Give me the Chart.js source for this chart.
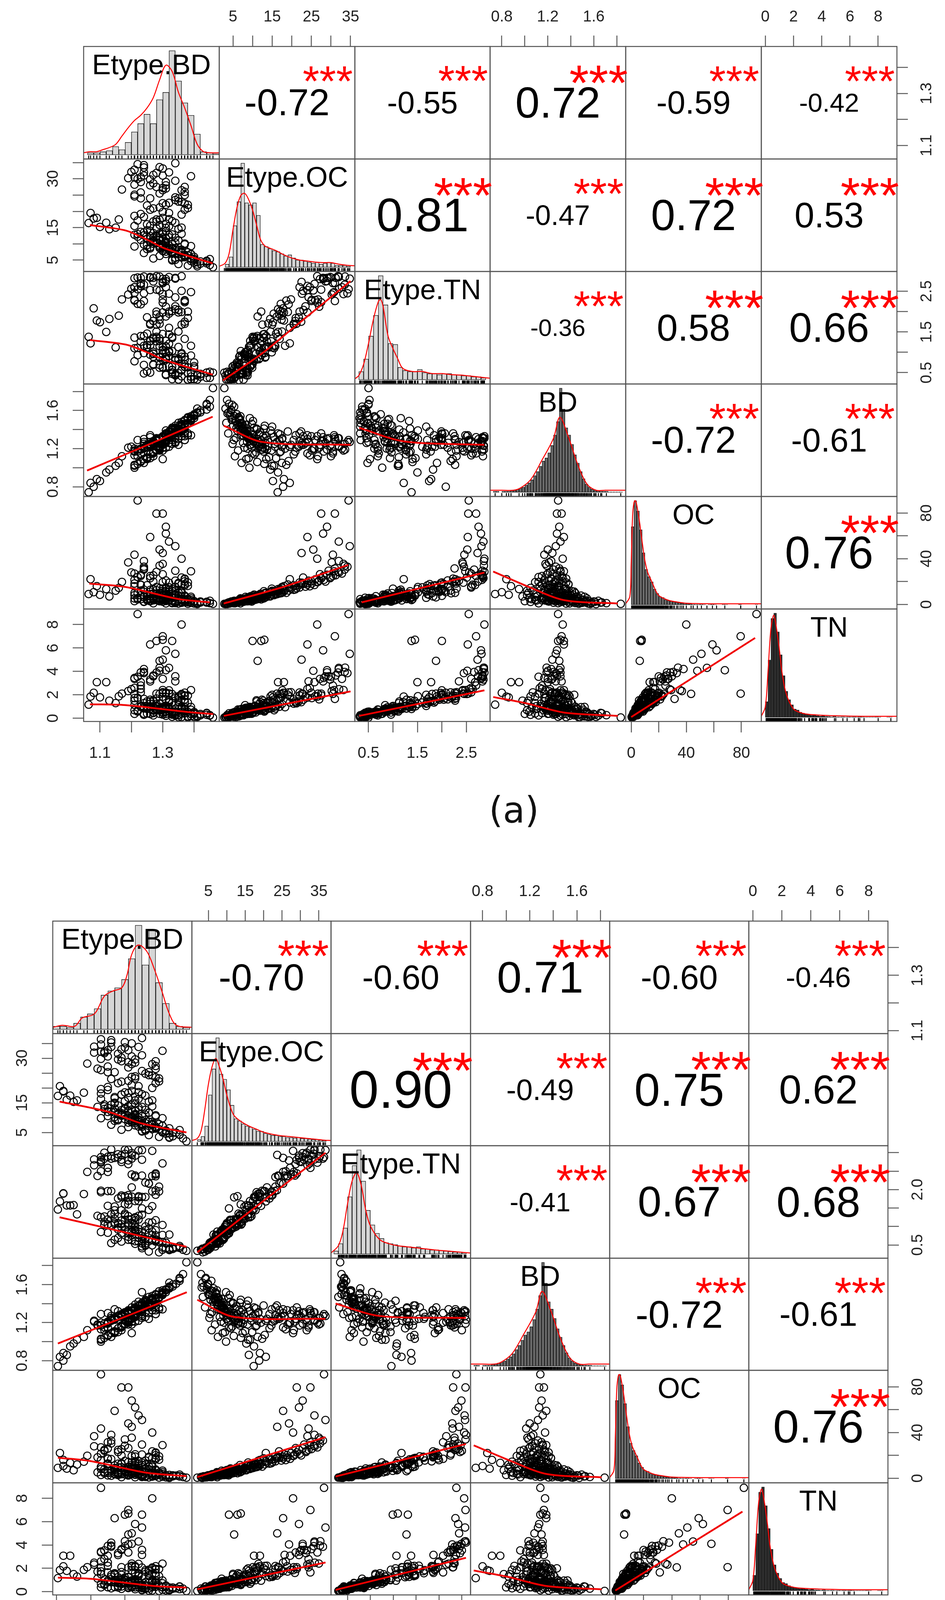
<!DOCTYPE html>
<html>
<head>
<meta charset="utf-8">
<script src="https://cdn.jsdelivr.net/npm/chart.js@4.4.1/dist/chart.umd.min.js"></script>
<style>
  body { margin: 0; background: #fff; width: 2418px; height: 4335px; position: relative; overflow: hidden; }
  canvas { position: absolute; }
  .txt { position: absolute; transform: translate(-50%, -50%); line-height: 1; white-space: nowrap;
         font-family: "Liberation Sans", Arial, sans-serif; }
</style>
</head>
<body>
<script>
// ---- data (one value per soil sample) ----
const varLabels = ["Etype.BD", "Etype.OC", "Etype.TN", "BD", "OC", "TN"];

const oc = [0.3,0.8,1.1,1.4,1.6,1.9,0.5,1.2,1.7,0.9, 2.1,2.3,2.4,2.6,2.7,2.8,2.9,3.0,3.1,3.2,
  3.3,3.4,3.5,3.6,3.6,3.7,3.8,3.9,3.9,2.5, 4.1,4.2,4.3,4.4,4.5,4.6,4.7,4.8,4.9,5.0,
  5.2,5.3,5.4,5.5,5.7,5.8,5.9,6.1,6.2,6.4, 6.6,6.8,7.0,7.2,7.4,7.6,7.7,7.9,7.5,8.2,
  8.4,8.6,8.9,9.1,9.3,9.6,9.8,10.3,10.7,11.1, 11.6,12.0,12.4,12.9,13.4,13.8,14.5,15.2,16.0,16.8,
  17.5,18.3,19.0,19.7,20.8,22.1,23.5,24.9,26.4,28.0, 29.5,31.5,34.0,36.8,40.0,43.5,51.0,59.0,68.0,91.0,
  79.5,79.5,
  1.0,2.2,3.4,4.0,1.5,2.9,5.1,0.7,3.8,2.0, 4.6,1.3,3.1,5.6,2.7,4.3,1.8,3.6,5.3,0.6,
  2.4,4.9,3.3,1.1,5.8,2.6,4.4,3.0,1.9,5.5, 3.9,2.8,4.7,1.4,3.5,5.0,2.2,4.1,0.4,3.7,
  6.3,7.1,8.0,9.4,10.1,6.9,11.4,12.8,7.8,8.7, 13.6,9.9,6.5,14.2,10.9,7.3,12.2,8.3,11.8,9.0,
  6.7,13.1,10.5,7.6,14.8,8.8,12.6,9.7,11.2,6.0, 13.9,7.4,10.0,8.1,12.0,
  15.5,17.0,18.8,21.5,16.2,23.0,19.5,25.5,17.8,27.0, 20.2,15.9,22.6,30.5,18.0,24.0,16.6,28.5,21.0,33.0,
  19.2,26.0,15.0,38.0,22.0,17.3,29.0,20.0,35.5,24.8,
  45.0,55.0,6.5,62.0,48.0];
const tn = [0.11,0.11,0.26,0.10,0.45,0.16,0.06,0.32,0.25,0.21, 0.42,0.29,0.31,0.38,0.56,0.36,0.36,0.41,0.84,0.22,
  0.70,0.28,0.79,0.38,0.53,0.38,0.79,0.40,0.88,0.38, 0.74,0.49,0.58,0.66,0.92,0.25,0.83,0.81,0.80,0.51,
  1.13,0.36,0.92,0.50,1.53,0.46,0.97,0.71,4.9,0.83, 0.89,0.65,1.50,0.59,1.58,6.7,0.95,1.04,6.6,0.74,
  1.78,0.57,1.44,1.16,1.38,0.73,1.74,0.97,2.17,0.98, 1.30,1.29,1.68,0.94,3.08,1.05,1.87,1.22,3.08,1.44,
  2.00,1.72,2.11,2.10,3.15,1.85,2.07,2.79,3.36,2.48, 3.58,1.65,4.32,2.32,8.0,2.08,5.5,6.3,4.1,8.9,
  7.0,2.1,0.24,0.29,0.75,0.40,0.30,0.37,1.02,0.09, 0.74,0.23,0.96,0.19,0.71,0.56,0.43,0.59,0.42,0.44,
  1.23,0.07,0.53,0.55,0.80,0.12,1.05,0.36,0.90,0.37, 0.43,0.57,0.72,0.37,1.11,0.17,0.59,0.70,0.53,0.47,
  0.12,0.40,1.08,0.82,1.43,0.83,1.50,0.79,2.10,1.24, 1.49,0.83,2.06,0.98,1.28,1.27,1.58,0.87,2.21,0.81,
  2.16,0.81,0.96,1.44,1.88,0.65,2.20,1.02,2.38,0.98, 2.00,0.54,2.22,0.75,2.07,0.68,1.71,1.85,3.08,1.76,
  3.44,1.33,3.30,1.84,3.65,1.37,3.36,2.18,2.59,1.95, 3.95,1.58,3.54,1.60,3.90,1.61,3.85,1.94,3.92,1.34,
  4.2,1.89,2.50,2.40,3.57,2.41,3.14,5.0,4.3,6.6, 5.8,4.05];
const bd = [1.62,1.55,1.71,1.48,1.66,1.52,1.835,1.44,1.58,1.39, 1.45,1.61,1.33,1.49,1.38,1.27,1.56,1.42,1.35,1.64,
  1.30,1.47,1.24,1.40,1.53,1.36,1.28,1.44,1.32,1.21, 1.37,1.26,1.50,1.19,1.34,1.43,1.31,1.22,1.46,1.29,
  1.17,1.54,1.33,1.39,1.25,1.41,1.28,1.32,1.30,1.21, 1.45,1.27,0.98,1.38,1.24,1.31,1.49,1.19,1.29,1.35,
  0.86,1.42,1.23,0.742,1.37,1.26,1.17,1.33,0.80,1.25, 1.41,1.02,1.29,1.20,0.95,1.36,1.05,1.30,0.88,1.22,
  1.38,1.18,1.26,1.12,1.27,0.84,1.33,1.15,1.24,1.22, 1.31,1.30,1.19,1.21,1.33,1.17,1.27,1.34,1.30,1.29,
  1.32,1.28,
  1.12,1.05,1.18,1.09,1.25,1.00,1.14,1.36,1.21,1.31, 1.06,1.58,1.44,1.35,1.52,1.28,1.67,1.15,1.23,1.47,
  1.39,1.46,1.10,1.29,1.19,1.60,1.33,1.26,1.42,1.04, 1.51,1.20,1.38,1.50,1.34,1.16,1.54,1.24,1.57,1.41,
  1.30,1.11,1.40,1.22,1.03,1.46,1.27,1.14,1.33,1.18, 1.35,1.44,1.09,1.21,1.32,1.25,1.07,1.37,1.24,1.29,
  1.52,1.17,1.39,1.20,1.28,1.10,1.31,1.16,1.43,1.27, 1.24,1.41,1.22,1.02,1.36,
  1.26,1.20,1.30,1.17,1.34,1.23,1.09,1.28,1.38,1.20, 1.33,1.13,1.36,1.25,1.24,1.12,1.29,1.31,1.21,1.27,
  1.36,1.19,1.22,1.23,1.29,1.15,1.34,1.26,1.18,1.32,
  1.24,1.31,1.34,1.28,1.20];

const etypeBdA = [1.41,1.40,1.45,1.36,1.44,1.38,1.46,1.34,1.42,1.31, 1.37,1.44,1.30,1.39,1.34,1.26,1.40,1.33,1.32,1.45,
  1.29,1.35,1.25,1.33,1.38,1.31,1.28,1.36,1.30,1.24, 1.32,1.27,1.37,1.22,1.31,1.35,1.29,1.25,1.36,1.30,
  1.21,1.39,1.31,1.33,1.27,1.34,1.28,1.30,1.29,1.24, 1.36,1.27,1.13,1.32,1.26,1.30,1.37,1.23,1.28,1.31,
  1.10,1.34,1.26,1.064,1.32,1.27,1.22,1.30,1.08,1.26, 1.33,1.15,1.28,1.24,1.12,1.31,1.16,1.28,1.09,1.25,
  1.36,1.21,1.32,1.17,1.34,1.07,1.36,1.23,1.30,1.20, 1.34,1.24,1.29,1.19,1.36,1.21,1.34,1.26,1.31,1.22,
  1.30,1.28,
  1.27,1.24,1.29,1.25,1.33,1.21,1.26,1.35,1.30,1.34, 1.23,1.41,1.37,1.33,1.40,1.31,1.44,1.27,1.29,1.38,
  1.36,1.38,1.26,1.33,1.28,1.42,1.32,1.31,1.37,1.22, 1.39,1.29,1.35,1.39,1.33,1.27,1.40,1.30,1.41,1.36,
  1.31,1.25,1.35,1.29,1.21,1.37,1.31,1.26,1.32,1.28, 1.33,1.36,1.24,1.29,1.32,1.30,1.23,1.34,1.30,1.31,
  1.39,1.27,1.35,1.29,1.31,1.25,1.32,1.27,1.36,1.31, 1.30,1.35,1.29,1.21,1.34,
  1.34,1.23,1.35,1.21,1.38,1.26,1.30,1.27,1.37,1.21, 1.37,1.21,1.37,1.24,1.35,1.22,1.37,1.28,1.31,1.24,
  1.38,1.23,1.32,1.24,1.37,1.23,1.39,1.27,1.30,1.26,
  1.30,1.32,1.33,1.31,1.29];
const etypeOcA = [3.1,4.2,3.5,5.8,4.8,6.5,2.8,5.1,3.9,6.9, 6.2,4.5,7.8,5.6,7.1,8.6,6.0,7.4,8.1,5.3,
  9.0,6.8,9.6,7.6,6.4,8.3,10.4,7.3,8.9,9.8, 8.0,10.8,6.6,12.2,8.8,7.7,9.4,11.5,7.2,9.9,
  12.8,6.9,9.1,8.4,11.0,8.7,10.2,9.7,11.3,12.6, 8.2,11.8,14.5,9.5,12.4,13.0,10.1,13.7,12.2,11.6,
  15.2,10.4,14.0,16.4,12.0,13.3,17.2,13.5,17.8,15.6, 12.9,15.0,16.8,18.3,16.5,14.9,17.5,17.5,18.0,21.8,
  19.0,25.1,22.6,26.7,24.3,19.5,22.9,30.5,27.2,32.1, 29.4,31.0,33.6,30.2,26.5,30.5,34.8,24.0,29.0,34.5,
  31.0,27.5,
  5.5,7.2,6.3,8.4,4.9,9.2,10.5,3.8,7.9,5.7, 11.2,4.4,6.6,8.8,5.0,9.5,4.0,10.0,11.8,3.3,
  6.1,7.4,9.0,5.2,12.5,4.6,8.6,7.6,5.9,13.0, 6.8,8.7,8.1,4.7,7.0,10.9,5.4,9.3,3.6,7.5,
  10.6,14.2,11.1,15.8,18.6,9.8,16.2,20.5,12.7,14.8, 17.0,13.1,13.5,21.2,15.4,12.0,19.2,11.9,18.0,13.9,
  9.3,20.9,14.6,13.2,22.0,16.0,17.6,16.9,15.0,10.3, 19.8,11.0,17.4,15.5,16.5,
  23.5,25.8,24.0,28.2,21.0,29.8,26.5,31.2,22.4,32.8, 25.0,24.6,27.5,33.5,23.0,30.0,20.5,31.8,27.0,34.2,
  22.0,29.0,19.5,32.0,26.0,24.0,30.8,28.6,33.2,28.0,
  22.5,32.0,10.0,28.0,25.5];
const etypeTnA = [0.43,0.34,0.52,0.41,0.50,0.32,0.50,0.44,0.47,0.45, 0.64,0.37,0.96,0.40,0.82,0.50,0.75,0.56,1.00,0.37,
  0.89,0.49,1.18,0.47,0.63,0.44,1.38,0.55,1.06,0.69, 0.91,0.96,0.89,0.93,0.88,0.33,1.28,1.12,0.89,0.62,
  1.36,0.50,1.14,0.57,1.36,0.43,1.35,0.81,1.88,0.98, 0.95,1.01,1.82,0.65,1.28,1.45,1.33,1.26,2.00,0.83,
  1.74,0.80,1.71,1.38,1.21,0.89,2.19,1.13,2.08,1.17, 1.35,1.12,1.93,1.16,1.50,1.00,1.90,1.51,1.78,1.86,
  1.99,2.29,2.44,2.30,2.35,1.22,2.51,2.70,2.80,2.56, 2.83,2.26,2.86,2.42,2.87,2.46,2.81,2.53,2.75,2.55,
  2.70,2.54,0.69,0.48,0.69,0.53,0.65,0.78,1.27,0.33, 0.95,0.46,1.40,0.33,0.70,0.51,0.66,0.83,0.50,0.71,
  1.34,0.33,0.72,0.48,0.94,0.34,1.68,0.40,1.03,0.46, 0.65,1.11,0.92,0.62,0.84,0.34,1.03,0.97,0.62,0.64,
  0.46,0.57,1.28,1.12,1.13,1.15,2.27,0.82,1.88,1.68, 1.44,1.27,2.01,0.98,1.40,1.70,1.95,1.04,2.18,0.86,
  1.98,1.15,1.16,1.77,1.51,0.87,2.60,1.46,2.00,1.33, 1.68,0.84,2.30,0.82,1.80,1.10,2.06,2.13,2.68,1.98,
  2.82,1.84,2.85,2.22,2.83,1.75,2.60,2.26,2.60,2.23, 2.66,2.04,2.84,1.70,2.87,2.12,2.45,2.00,2.83,1.60,
  2.86,2.28,2.63,2.48,2.74,2.43,2.83,2.73,2.85,1.38, 2.80,2.52];

const etypeBdB = [1.43,1.42,1.47,1.38,1.46,1.35,1.48,1.36,1.44,1.33, 1.39,1.45,1.31,1.41,1.35,1.28,1.43,1.34,1.33,1.46,
  1.30,1.37,1.27,1.35,1.40,1.32,1.29,1.38,1.32,1.25, 1.34,1.28,1.39,1.24,1.33,1.36,1.31,1.26,1.38,1.31,
  1.22,1.41,1.33,1.35,1.27,1.36,1.30,1.32,1.31,1.25, 1.38,1.29,1.15,1.34,1.27,1.31,1.39,1.24,1.30,1.33,
  1.13,1.36,1.27,1.104,1.34,1.28,1.23,1.32,1.12,1.27, 1.35,1.16,1.29,1.25,1.14,1.33,1.18,1.30,1.12,1.26,
  1.38,1.22,1.33,1.19,1.35,1.11,1.38,1.24,1.31,1.21, 1.35,1.25,1.30,1.21,1.38,1.23,1.35,1.27,1.32,1.23,
  1.31,1.29,
  1.29,1.26,1.31,1.27,1.35,1.23,1.28,1.37,1.32,1.36, 1.25,1.43,1.39,1.34,1.42,1.33,1.46,1.29,1.31,1.40,
  1.38,1.40,1.28,1.35,1.30,1.44,1.34,1.33,1.39,1.24, 1.41,1.31,1.37,1.41,1.35,1.29,1.42,1.32,1.43,1.38,
  1.33,1.27,1.37,1.31,1.23,1.39,1.33,1.28,1.34,1.30, 1.35,1.38,1.26,1.31,1.34,1.32,1.25,1.36,1.32,1.33,
  1.41,1.29,1.37,1.31,1.33,1.27,1.34,1.29,1.38,1.33, 1.32,1.37,1.31,1.23,1.36,
  1.36,1.25,1.37,1.23,1.40,1.28,1.32,1.29,1.39,1.23, 1.39,1.23,1.39,1.26,1.37,1.24,1.39,1.30,1.33,1.26,
  1.40,1.25,1.34,1.26,1.39,1.25,1.41,1.29,1.32,1.28,
  1.32,1.34,1.35,1.33,1.31];
const etypeOcB = [3.4,4.6,3.0,6.1,4.2,6.9,2.0,5.6,3.7,7.4, 6.6,4.9,8.3,5.2,7.6,9.1,6.4,7.0,8.7,5.8,
  9.5,7.2,10.2,8.0,6.1,8.9,11.0,7.7,9.4,10.5, 8.5,11.4,7.0,12.9,9.3,8.1,10.0,12.1,7.5,10.6,
  13.6,7.3,9.6,8.8,11.7,9.2,10.9,10.3,12.0,13.3, 8.6,12.5,15.3,10.0,13.1,13.8,10.8,14.4,12.9,12.2,
  16.0,11.0,14.8,17.3,12.7,14.1,18.1,14.3,18.8,16.5, 13.6,15.8,17.7,19.3,17.4,15.8,18.4,18.5,19.0,23.0,
  20.0,26.5,23.9,28.2,25.7,20.6,24.2,32.2,28.7,33.9, 31.0,32.7,35.4,31.9,28.0,32.2,36.8,25.3,30.6,36.4,
  32.7,29.0,
  5.9,7.6,6.8,8.9,5.3,9.8,11.1,4.1,8.4,6.0, 11.9,4.7,7.0,9.3,5.4,10.1,4.3,10.6,12.4,3.5,
  6.5,7.8,9.5,5.5,13.2,4.9,9.1,8.1,6.3,13.8, 7.2,9.2,8.6,5.0,7.4,11.5,5.7,9.9,3.2,7.9,
  11.2,15.0,11.7,16.7,19.6,10.4,17.1,21.6,13.4,15.6, 17.9,13.8,14.3,22.4,16.3,12.7,20.3,12.6,19.0,14.7,
  9.8,22.1,15.4,13.9,23.2,16.9,18.6,17.8,15.8,10.9, 20.9,11.6,18.3,16.3,17.4,
  24.8,27.2,25.3,29.8,22.2,31.5,28.0,33.0,23.6,34.6, 26.4,26.0,29.0,35.3,24.3,31.7,21.6,33.6,28.5,36.1,
  23.2,30.6,20.6,33.8,27.4,25.3,32.5,30.2,35.0,29.6,
  23.7,33.8,10.6,29.6,26.9];
const etypeTnB = [0.40,0.41,0.37,0.49,0.42,0.46,0.34,0.48,0.39,0.53, 0.62,0.43,0.86,0.43,0.74,0.69,0.78,0.59,0.91,0.47,
  0.92,0.60,1.07,0.60,0.58,0.63,1.16,0.63,0.98,0.83, 0.85,0.97,0.76,1.04,0.88,0.54,1.09,1.04,0.77,0.81,
  1.29,0.58,1.02,0.67,1.11,0.66,1.18,0.87,1.79,1.06, 0.86,1.06,1.58,0.79,1.21,1.60,1.17,1.27,1.82,0.98,
  1.57,0.90,1.54,1.46,1.19,1.08,1.93,1.20,1.90,1.34, 1.32,1.33,1.80,1.56,1.57,1.25,1.88,1.60,1.89,1.96,
  1.95,2.37,2.38,2.48,2.38,1.68,2.37,2.84,2.69,2.82, 2.81,2.59,3.08,2.66,3.05,2.80,3.07,2.86,2.99,2.88,
  3.08,2.81,0.59,0.55,0.64,0.64,0.54,0.85,1.09,0.32, 0.84,0.50,1.19,0.36,0.65,0.69,0.56,0.87,0.43,0.82,
  1.19,0.30,0.64,0.58,0.92,0.41,1.35,0.42,0.93,0.60, 0.59,1.13,0.77,0.72,0.82,0.37,0.86,0.98,0.56,0.76,
  0.37,0.63,1.16,1.21,1.11,1.28,1.97,0.90,1.69,1.76, 1.29,1.31,1.80,1.11,1.33,1.85,1.69,1.10,1.96,1.00,
  1.81,1.23,1.04,1.84,1.45,1.05,2.34,1.44,1.82,1.44, 1.55,0.91,2.06,0.95,1.70,1.25,1.80,2.19,2.59,2.16,
  2.76,1.95,2.96,2.41,2.93,1.98,2.73,2.36,2.50,2.44, 2.91,2.17,3.00,1.86,2.97,2.38,2.84,2.08,2.89,1.79,
  3.09,2.41,2.48,2.71,2.75,2.84,2.87,2.94,3.06,1.49, 2.92,2.79];

// correlations printed in the upper triangle (row by row)
const corrA = ["-0.72","-0.55","0.72","-0.59","-0.42","0.81","-0.47","0.72","0.53","-0.36","0.58","0.66","-0.72","-0.61","0.76"];
const corrB = ["-0.70","-0.60","0.71","-0.60","-0.46","0.90","-0.49","0.75","0.62","-0.41","0.67","0.68","-0.72","-0.61","0.76"];

// axis ranges and ticks
const axisMinA = [1.048, 1.5, 0.221, 0.698, -4, -0.28];
const axisMaxA = [1.48, 36.1, 2.986, 1.878, 94.5, 9.33];
const axisMinB = [1.089, 0.53, 0.14, 0.698, -4, -0.28];
const axisMaxB = [1.496, 38.3, 3.19, 1.878, 94.5, 9.33];
const tickStep = [0.1, 5, 0.5, 0.2, 20, 2];
const tickDecimals = [1, 0, 1, 1, 0, 0];
const xTickLabels = [[1.1, 1.3], [5, 15, 25, 35], [0.5, 1.5, 2.5], [0.8, 1.2, 1.6], [0, 40, 80], [0, 2, 4, 6, 8]];
const yTickLabelsA = [[1.1, 1.3], [5, 15, 30], [0.5, 1.5, 2.5], [0.8, 1.2, 1.6], [0, 40, 80], [0, 2, 4, 6, 8]];
const yTickLabelsB = [[1.1, 1.3], [5, 15, 30], [0.5, 2.0], [0.8, 1.2, 1.6], [0, 40, 80], [0, 2, 4, 6, 8]];

// histograms on the diagonal (relative bar heights) and red density curves
const histEtypeBdA = [0.02,0.02,0.03,0.04,0.08,0.05,0.12,0.22,0.30,0.39,0.30,0.53,0.60,1.00,0.71,0.50,0.38,0.20,0.03,0.02,0.01];
const histEtypeOcA = [0.03,0.10,0.40,0.63,1.00,0.62,0.60,0.62,0.50,0.22,0.20,0.18,0.16,0.15,0.13,0.11,0.12,0.09,0.07,0.07,0.06,0.05,0.04,0.05,0.03,0.04,0.05,0.04,0.02,0.02,0.02,0.01];
const histEtypeTnA = [0.08,0.20,0.42,0.62,1.00,0.72,0.35,0.34,0.12,0.09,0.08,0.08,0.10,0.07,0.06,0.06,0.05,0.06,0.06,0.05,0.05,0.04,0.04,0.03,0.03,0.02];
const histEtypeBdB = [0.03,0.03,0.02,0.06,0.12,0.15,0.20,0.33,0.37,0.40,0.48,0.68,1.00,0.62,0.95,0.45,0.25,0.06,0.03,0.02];
const histEtypeOcB = [0.02,0.05,0.15,0.45,0.70,1.00,0.65,0.60,0.50,0.35,0.22,0.20,0.17,0.15,0.14,0.12,0.10,0.10,0.08,0.07,0.06,0.06,0.05,0.05,0.04,0.04,0.035,0.04,0.03,0.03,0.025,0.02,0.02,0.015,0.01];
const histEtypeTnB = [0.03,0.10,0.25,0.55,0.85,1.00,0.70,0.42,0.28,0.20,0.15,0.11,0.10,0.09,0.08,0.07,0.07,0.06,0.07,0.05,0.05,0.04,0.04,0.035,0.03,0.025,0.02,0.02,0.015];
const histBd = [0.01,0.01,0,0.01,0.01,0.01,0.02,0.02,0.03,0.04, 0.05,0.07,0.09,0.12,0.16,0.20,0.25,0.30,0.33,0.38,
  0.45,0.55,0.68,1.00,0.80,0.62,0.55,0.46,0.36,0.28, 0.20,0.13,0.08,0.05,0.03,0.02,0.02,0.01,0.01,0.01,
  0.005,0.005,0.005,0.005,0.005];
const histOc = [0.75,1.00,0.90,0.72,0.50,0.34,0.27,0.22,0.15,0.11, 0.08,0.07,0.05,0.04,0.035,0.03,0.025,0.02,0.015,0.01,
  0.012,0.008,0.006,0.005,0.004,0.006,0.003,0,0.003,0.004, 0.002,0,0,0.003,0.002,0,0,0,0,0.004, 0,0,0,0,0,0.002];
const histTn = [0.15,0.55,0.95,1.00,0.82,0.60,0.40,0.25,0.17,0.12, 0.08,0.07,0.05,0.04,0.035,0.03,0.02,0.02,0.015,0.012,
  0.02,0.01,0.008,0.006,0.01,0.005,0.004,0.006,0.003,0.004, 0.003,0.005,0.003,0.006,0.003,0.002,0.002,0.002,0.002,0.003,
  0.002,0,0,0.002,0.002];
const histStartA = [1.06, 3, 0.3, 0.725, 0, 0];
const histWidthA = [0.02, 1, 0.1, 0.025, 2, 0.2];
const histStartB = [1.09, 2, 0.2, 0.725, 0, 0];
const histWidthB = [0.02, 1, 0.1, 0.025, 2, 0.2];
const histFill = ["#d6d6d6", "#d6d6d6", "#d6d6d6", "#6a6a6a", "#6e6e6e", "#2e2e2e"];

const densEtypeBdAX = [1.048,1.07,1.09,1.11,1.13,1.15,1.17,1.19,1.21,1.23,1.25,1.27,1.29,1.31,1.33,1.35,1.37,1.39,1.41,1.43,1.45,1.48];
const densEtypeBdAY = [0.02,0.03,0.03,0.05,0.07,0.10,0.18,0.26,0.33,0.38,0.45,0.55,0.72,0.86,0.80,0.60,0.45,0.28,0.10,0.03,0.02,0.02];
const densEtypeOcAX = [1.5,3,4,5,6,7,8,9,10,11,12,13,14,16,18,20,22,24,26,28,30,32,34,36.1];
const densEtypeOcAY = [0.01,0.04,0.13,0.36,0.57,0.69,0.71,0.65,0.55,0.41,0.27,0.21,0.19,0.16,0.12,0.09,0.07,0.06,0.05,0.045,0.045,0.03,0.02,0.015];
const densEtypeTnAX = [0.221,0.3,0.4,0.5,0.6,0.7,0.75,0.8,0.9,1.0,1.1,1.2,1.4,1.6,1.8,2.0,2.2,2.4,2.6,2.8,2.986];
const densEtypeTnAY = [0.01,0.04,0.15,0.35,0.58,0.75,0.77,0.70,0.42,0.30,0.20,0.11,0.08,0.08,0.06,0.06,0.05,0.045,0.035,0.025,0.015];
const densEtypeBdBX = [1.089,1.117,1.153,1.175,1.211,1.240,1.266,1.291,1.306,1.320,1.339,1.364,1.386,1.408,1.430,1.451,1.496];
const densEtypeBdBY = [0.02,0.04,0.03,0.11,0.15,0.32,0.37,0.40,0.52,0.72,0.81,0.75,0.58,0.37,0.15,0.04,0.02];
const densEtypeOcBX = [0.53,2,3,4,5,6,7,8,9,10,11,12,14,16,18,20,24,28,32,36,38.3];
const densEtypeOcBY = [0.01,0.03,0.10,0.30,0.55,0.72,0.80,0.72,0.60,0.45,0.33,0.25,0.19,0.15,0.12,0.09,0.06,0.045,0.03,0.015,0.01];
const densEtypeTnBX = [0.14,0.3,0.4,0.5,0.6,0.7,0.8,0.9,1.0,1.2,1.4,1.6,1.8,2.0,2.4,2.8,3.19];
const densEtypeTnBY = [0.01,0.08,0.22,0.48,0.70,0.78,0.66,0.42,0.27,0.14,0.10,0.08,0.07,0.06,0.04,0.025,0.01];
const densBdX = [0.698,0.8,0.9,0.96,1.05,1.15,1.25,1.305,1.38,1.46,1.54,1.62,1.7,1.878];
const densBdY = [0.02,0.02,0.02,0.04,0.12,0.31,0.52,0.72,0.53,0.27,0.08,0.02,0.02,0.02];
const densOcX = [-4,-1,0,1,2,3,4,6,8,10,12,14,16,18,20,24,28,32,40,50,60,70,80,94.5];
const densOcY = [0.01,0.08,0.40,0.85,0.98,1.00,0.96,0.80,0.60,0.42,0.31,0.25,0.19,0.13,0.09,0.06,0.04,0.03,0.015,0.012,0.01,0.01,0.01,0.01];
const densTnX = [-0.28,0,0.2,0.4,0.6,0.8,1.0,1.2,1.5,2.0,2.5,3,4,5,6,7,8,9.33];
const densTnY = [0.01,0.10,0.45,0.85,0.98,0.85,0.65,0.42,0.22,0.08,0.045,0.03,0.02,0.015,0.012,0.01,0.01,0.01];

// red smoothers in the lower panels, "row-col": [x values, y values]
const smoothA = {
  "2-1": [[1.068,1.182,1.25,1.306,1.459], [15.8,14.1,11.3,8.6,4.0]],
  "3-1": [[1.068,1.182,1.25,1.306,1.459], [1.30,1.19,1.0,0.81,0.45]],
  "3-2": [[2.45,12.4,20,28,35], [0.31,0.97,1.57,2.2,2.75]],
  "4-1": [[1.059,1.26,1.459], [0.97,1.25,1.535]],
  "4-2": [[2.65,12.5,35], [1.44,1.27,1.24]],
  "4-3": [[0.31,1.225,2.87], [1.418,1.276,1.24]],
  "5-1": [[1.066,1.18,1.35,1.45], [18.2,15.3,4.7,1.8]],
  "5-2": [[2.65,18,34.4], [0.8,15.5,34.6]],
  "5-3": [[0.36,2.87], [1.8,27.9]],
  "5-4": [[0.725,1.035,1.344,1.81], [28.8,15.3,3.7,0.8]],
  "6-1": [[1.068,1.18,1.383,1.461], [1.19,1.12,0.52,0.35]],
  "6-2": [[2.65,35], [0.2,2.29]],
  "6-3": [[0.31,2.87], [0.2,2.38]],
  "6-4": [[0.725,1.0,1.344,1.81], [1.81,1.3,0.48,0.2]],
  "6-5": [[0,90], [0.1,6.86]]
};
const smoothB = {
  "2-1": [[1.109,1.25,1.35,1.48], [15.4,12.0,8.0,5.0]],
  "3-1": [[1.109,1.25,1.48], [1.25,0.95,0.45]],
  "3-2": [[2.0,36.8], [0.3,3.0]],
  "4-1": [[1.104,1.481], [0.98,1.52]],
  "4-2": [[2.0,12,36.8], [1.44,1.26,1.24]],
  "4-3": [[0.24,1.2,3.09], [1.40,1.27,1.25]],
  "5-1": [[1.104,1.2,1.36,1.48], [18,15,5,1.8]],
  "5-2": [[2.0,36.8], [1.0,36.0]],
  "5-3": [[0.24,3.09], [1.5,30]],
  "5-4": [[0.725,1.035,1.344,1.81], [28.8,15.3,3.7,0.8]],
  "6-1": [[1.104,1.2,1.38,1.48], [1.2,1.1,0.5,0.35]],
  "6-2": [[2.0,36.8], [0.2,2.5]],
  "6-3": [[0.24,3.09], [0.15,2.9]],
  "6-4": [[0.725,1.0,1.344,1.81], [1.81,1.3,0.48,0.2]],
  "6-5": [[0,90], [0.1,6.86]]
};

// ---- drawing ----
const SANS = '"Liberation Sans", Arial, sans-serif';
const M = 110;          // room around every cell for outer axes
const TICK_LEN = 28;
const TICK_FONT = 40;

const measureCtx = document.createElement("canvas").getContext("2d");
function textWidth(txt, size, family) {
  measureCtx.font = size + "px " + family;
  return measureCtx.measureText(txt).width;
}

const boxPlugin = {
  id: "cellBox",
  afterDraw(chart) {
    const { ctx, chartArea: a } = chart;
    ctx.save();
    ctx.strokeStyle = "#505050";
    ctx.lineWidth = 2.5;
    ctx.strokeRect(a.left, a.top, a.right - a.left, a.bottom - a.top);
    ctx.restore();
  }
};

function tickCallback(shown, dec, step) {
  return function (value) {
    for (const v of shown) {
      if (Math.abs(v - value) < step * 0.01) return v.toFixed(dec);
    }
    return "";
  };
}

function axis(horizontal, position, show, min, max, step, shown, dec) {
  const cfg = {
    type: "linear", position: position, display: show, min: min, max: max, offset: false,
    grid: { display: true, drawOnChartArea: false, drawTicks: true, tickLength: TICK_LEN, tickWidth: 2.5, tickColor: "#5a5a5a" },
    border: { display: false },
    ticks: { stepSize: step, autoSkip: false, includeBounds: false, color: "#222",
             font: { family: SANS, size: TICK_FONT }, callback: tickCallback(shown, dec, step) }
  };
  if (show) {
    cfg.afterFit = function (s) { if (horizontal) s.height = M; else s.width = M; };
    if (horizontal) {
      cfg.ticks.padding = position === "top" ? 23 : 30;
    } else {
      const widest = Math.max(...shown.map(v => textWidth(v.toFixed(dec), TICK_FONT, SANS)));
      cfg.ticks.minRotation = 90;
      cfg.ticks.maxRotation = 90;
      cfg.ticks.crossAlign = "center";
      cfg.ticks.padding = 77 - TICK_LEN - widest / 2;
    }
  }
  return cfg;
}

function addText(txt, x, y, size, color, family) {
  const d = document.createElement("div");
  d.className = "txt";
  d.textContent = txt;
  d.style.left = x + "px";
  d.style.top = y + "px";
  d.style.fontSize = size + "px";
  d.style.color = color;
  if (family) d.style.fontFamily = family;
  document.body.appendChild(d);
}

function buildPanel(p) {
  const n = 6;
  const colEdge = i => Math.round(p.left + i * p.w);
  const rowEdge = i => Math.round(p.top + i * p.h);
  const texts = [];
  let k = 0;

  for (let r = 0; r < n; r++) {
    for (let c = 0; c < n; c++) {
      const cl = colEdge(c), cr = colEdge(c + 1), ct = rowEdge(r), cb = rowEdge(r + 1);
      const W = cr - cl, H = cb - ct;
      const axTop = r === 0 && c % 2 === 1;
      const axBottom = r === n - 1 && c % 2 === 0;
      const axLeft = c === 0 && r % 2 === 1;
      const axRight = c === n - 1 && r % 2 === 0;

      const cv = document.createElement("canvas");
      cv.width = W + 2 * M;
      cv.height = H + 2 * M;
      cv.style.left = (cl - M) + "px";
      cv.style.top = (ct - M) + "px";
      document.body.appendChild(cv);

      const xScale = axis(true, axTop ? "top" : "bottom", axTop || axBottom,
        p.mins[c], p.maxs[c], tickStep[c], xTickLabels[c], tickDecimals[c]);
      const yScale = axis(false, axRight ? "right" : "left", axLeft || axRight,
        p.mins[r], p.maxs[r], tickStep[r], p.yLabels[r], tickDecimals[r]);

      let type = "scatter";
      let datasets = [];

      if (r === c) {
        // histogram + density + rug
        type = "bar";
        yScale.min = -0.04;
        yScale.max = 1.04;
        const bars = p.hist[c].map((h, i) => ({ x: p.histStart[c] + p.histWidth[c] * (i + 0.5), y: h }));
        const dens = p.densX[c].map((x, i) => ({ x: x, y: p.densY[c][i] }));
        const rug = p.vars[c].map(v => ({ x: v, y: -0.024 }));
        datasets = [
          { type: "bar", data: bars, backgroundColor: histFill[c], borderColor: "#1a1a1a", borderWidth: 1.5,
            borderSkipped: false, barPercentage: 1, categoryPercentage: 1, order: 3 },
          { type: "scatter", data: rug, pointStyle: "line", rotation: 90, pointRadius: 4.5,
            pointBorderColor: "#000", pointBorderWidth: 2.5, order: 2 },
          { type: "line", data: dens, borderColor: "#ff0000", borderWidth: 2.5, pointRadius: 0,
            tension: 0.35, fill: false, order: 1 }
        ];
        texts.push([varLabels[c], cl + W / 2, ct + 0.16 * H, "label"]);
      } else if (r > c) {
        // scatter + red smoother
        const xs = p.vars[c], ys = p.vars[r];
        const pts = xs.map((v, i) => ({ x: v, y: ys[i] }));
        const sm = p.smooth[(r + 1) + "-" + (c + 1)];
        const line = sm[0].map((x, i) => ({ x: x, y: sm[1][i] }));
        datasets = [
          { type: "scatter", data: pts, pointStyle: "circle", pointRadius: 9.5, pointBorderWidth: 2.5,
            pointBorderColor: "#000", pointBackgroundColor: "rgba(0,0,0,0)", clip: 12, order: 2 },
          { type: "line", data: line, borderColor: "#f00000", borderWidth: 4.5, pointRadius: 0,
            tension: 0.3, fill: false, order: 1 }
        ];
      } else {
        texts.push([p.corr[k], cl, ct, "corr", W, H]);
        k++;
      }

      new Chart(cv, {
        type: type,
        data: { datasets: datasets },
        options: {
          responsive: false, animation: false, devicePixelRatio: 1, events: [],
          layout: { padding: { left: axLeft ? 0 : M, right: axRight ? 0 : M, top: axTop ? 0 : M, bottom: axBottom ? 0 : M } },
          plugins: { legend: { display: false }, tooltip: { enabled: false } },
          scales: { x: xScale, y: yScale }
        },
        plugins: [boxPlugin]
      });
    }
  }

  const W0 = p.w;
  const labelEm = Math.max(...varLabels.map(l => textWidth(l, 100, SANS) / 100));
  const labelSize = 0.9 * W0 / labelEm;
  for (const t of texts) {
    if (t[3] === "label") {
      addText(t[0], t[1], t[2], labelSize, "#000");
    } else {
      const txt = t[0], cl = t[1], ct = t[2], W = t[4], H = t[5];
      const em = textWidth(txt, 100, SANS) / 100;
      const base = 0.8 * W / em;
      const r = Math.abs(parseFloat(txt));
      const starSize = base * 0.9;
      addText(txt, cl + W / 2, ct + H / 2, base * (r + 0.3) / 1.3, "#000");
      addText("***", cl + 0.8 * W, ct + 0.22 * H + 0.23 * starSize, starSize, "#ff0000");
    }
  }
  addText(p.caption, p.capX, p.capY, 92, "#111", '"DejaVu Sans", sans-serif');
}

buildPanel({
  left: 214, top: 119, w: 346.8, h: 288,
  vars: [etypeBdA, etypeOcA, etypeTnA, bd, oc, tn],
  mins: axisMinA, maxs: axisMaxA, yLabels: yTickLabelsA,
  hist: [histEtypeBdA, histEtypeOcA, histEtypeTnA, histBd, histOc, histTn],
  histStart: histStartA, histWidth: histWidthA,
  densX: [densEtypeBdAX, densEtypeOcAX, densEtypeTnAX, densBdX, densOcX, densTnX],
  densY: [densEtypeBdAY, densEtypeOcAY, densEtypeTnAY, densBdY, densOcY, densTnY],
  smooth: smoothA, corr: corrA, caption: "(a)", capX: 1315, capY: 2075
});

buildPanel({
  left: 135, top: 2358, w: 356.17, h: 287.5,
  vars: [etypeBdB, etypeOcB, etypeTnB, bd, oc, tn],
  mins: axisMinB, maxs: axisMaxB, yLabels: yTickLabelsB,
  hist: [histEtypeBdB, histEtypeOcB, histEtypeTnB, histBd, histOc, histTn],
  histStart: histStartB, histWidth: histWidthB,
  densX: [densEtypeBdBX, densEtypeOcBX, densEtypeTnBX, densBdX, densOcX, densTnX],
  densY: [densEtypeBdBY, densEtypeOcBY, densEtypeTnBY, densBdY, densOcY, densTnY],
  smooth: smoothB, corr: corrB, caption: "(b)", capX: 1279, capY: 4264
});
</script>
</body>
</html>
